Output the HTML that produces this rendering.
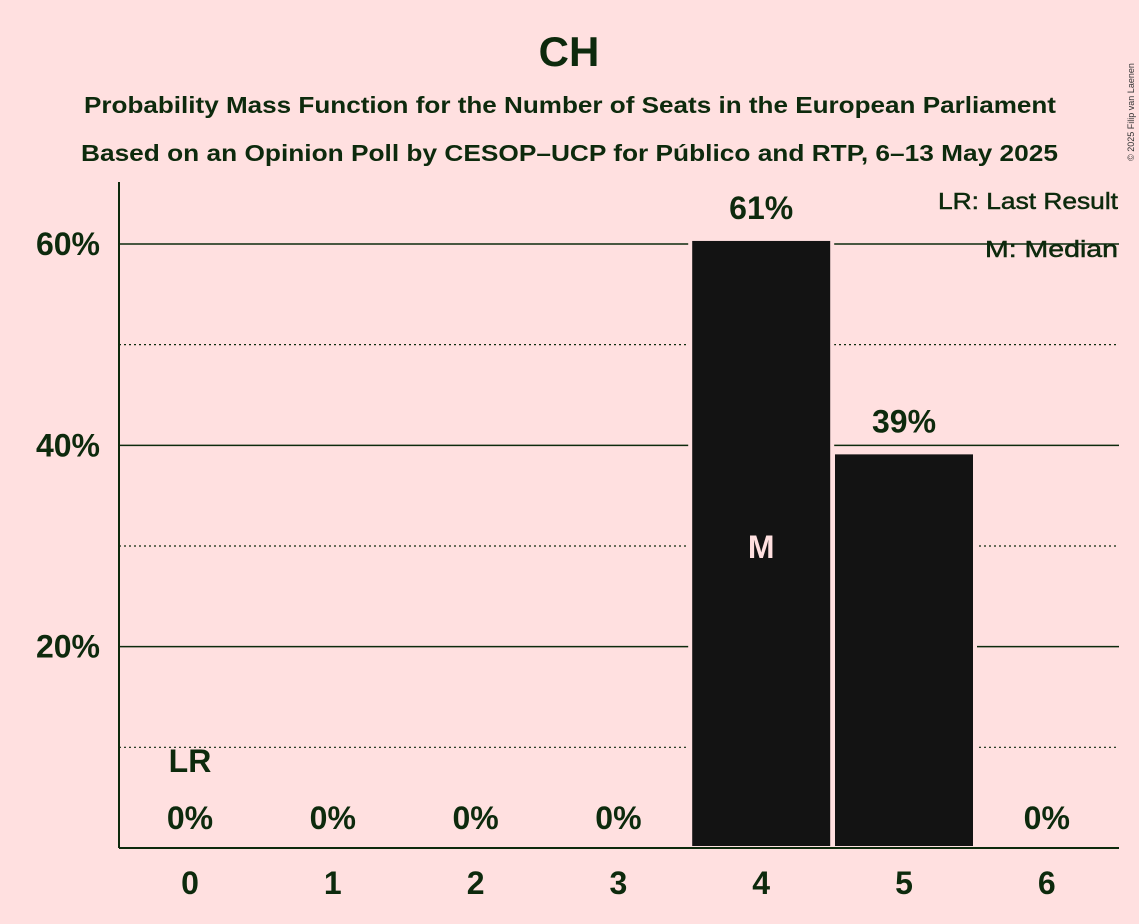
<!DOCTYPE html>
<html><head><meta charset="utf-8"><style>
body{margin:0;background:#ffe0e0;}
svg{display:block;font-family:"Liberation Sans",sans-serif;font-weight:bold;}
</style></head><body>
<svg id="chart" width="1139" height="924">
<rect width="1139" height="924" fill="#ffe0e0"/>
<text x="569" y="66" text-anchor="middle" font-size="42" fill="#0d2a0d">CH</text>
<text x="84" y="113" font-size="23" fill="#0d2a0d" textLength="972" lengthAdjust="spacingAndGlyphs">Probability Mass Function for the Number of Seats in the European Parliament</text>
<text x="81" y="161" font-size="23" fill="#0d2a0d" textLength="977" lengthAdjust="spacingAndGlyphs">Based on an Opinion Poll by CESOP–UCP for Público and RTP, 6–13 May 2025</text>
<text x="1134" y="112" font-size="9" font-weight="normal" fill="#333" transform="rotate(-90 1134 112)" text-anchor="middle">© 2025 Filip van Laenen</text>
<g id="grid"></g>
<g id="bars"></g>
<g id="labels"></g>
<line x1="119" y1="182" x2="119" y2="848" stroke="#0d2a0d" stroke-width="2"/>
<line x1="119" y1="848" x2="1119" y2="848" stroke="#0d2a0d" stroke-width="2"/>
<text x="938" y="209" font-size="23" font-weight="normal" fill="#0d2a0d" stroke="#0d2a0d" stroke-width="0.5" textLength="180" lengthAdjust="spacingAndGlyphs">LR: Last Result</text>
<text x="985" y="257" font-size="23" font-weight="normal" fill="#0d2a0d" stroke="#0d2a0d" stroke-width="0.5" textLength="133" lengthAdjust="spacingAndGlyphs">M: Median</text>
</svg>
<script>
const categories=[0,1,2,3,4,5,6];
const values=[0,0,0,0,60.5,39.3,0];
const valueLabels=["0%","0%","0%","0%","61%","39%","0%"];
const yTicks=[20,40,60];
const yTickLabels=["20%","40%","60%"];
const yMinor=[10,30,50];
const lastResult=0;
const median=4;
const NS="http://www.w3.org/2000/svg";
function y(v){return 848-v*10.067;}
function x(c){return 190+c*142.8;}
function mk(tag,attrs,parent){const e=document.createElementNS(NS,tag);for(const k in attrs)e.setAttribute(k,attrs[k]);document.getElementById(parent).appendChild(e);return e;}
yTicks.forEach((t,i)=>{
 const l=mk('line',{x1:119,x2:1119,y1:y(t),y2:y(t),stroke:'#0d2a0d','stroke-width':1.5},'grid');
 
 
 const tx=mk('text',{x:100,y:y(t)+11,'text-anchor':'end','font-size':32,fill:'#0d2a0d'},'grid');
 tx.textContent=yTickLabels[i];
 
 
});
yMinor.forEach(t=>{
 const l=mk('line',{x1:119,x2:1119,y1:y(t),y2:y(t),stroke:'#0d2a0d','stroke-width':1.2,'stroke-dasharray':'2,3'},'grid');
 
 
});
categories.forEach((c,i)=>{
 const v=values[i];
 if(v>0){
  const r=mk('rect',{x:x(c)-71,y:y(v),width:142,height:848-y(v),fill:'#131313',stroke:'#ffe0e0','stroke-width':4},'bars');
  
  
 }
 const lt=mk('text',{x:x(c),y:(v>0?y(v)-20:829),'text-anchor':'middle','font-size':32,fill:'#0d2a0d'},'labels');
 lt.textContent=valueLabels[i];
 
 
 const xt=mk('text',{x:x(c),y:894,'text-anchor':'middle','font-size':32,fill:'#0d2a0d'},'labels');
 xt.textContent=String(c);
 
 
});
const lr=mk('text',{x:x(lastResult),y:772,'text-anchor':'middle','font-size':32,fill:'#0d2a0d'},'labels');
lr.textContent='LR';


const md=mk('text',{x:x(median),y:558,'text-anchor':'middle','font-size':32,fill:'#ffe0e0'},'labels');
md.textContent='M';


</script>
</body></html>
